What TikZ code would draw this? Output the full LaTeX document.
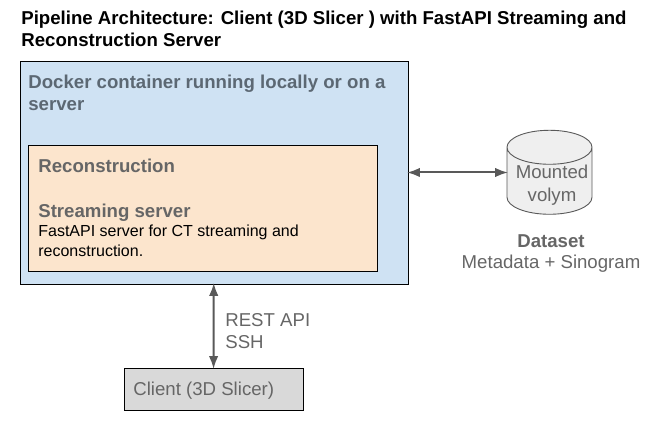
\documentclass[tikz,border=0pt]{standalone}
\usepackage{fontspec}
\setmainfont{Liberation Sans}
\usetikzlibrary{arrows.meta,shapes.geometric}
\definecolor{dockerfill}{HTML}{CFE2F3}
\definecolor{dockertext}{HTML}{5C6873}
\definecolor{serverfill}{HTML}{FCE5CD}
\definecolor{clientfill}{HTML}{D9D9D9}
\definecolor{volumefill}{HTML}{EFEFEF}
\definecolor{textgray}{HTML}{666666}
\definecolor{linegray}{HTML}{595959}
\tikzset{
  boxnode/.style={draw=black, line width=0.018cm, inner sep=0pt},
  labelnode/.style={inner sep=0pt, align=left, text=textgray},
  linkarrow/.style={{Latex[length=0.26cm,width=0.19cm]}-{Latex[length=0.26cm,width=0.19cm]}, draw=linegray, line width=0.04cm, shorten >=-0.03cm, shorten <=-0.03cm}
}
\begin{document}
\begin{tikzpicture}
  \useasboundingbox (0,0) rectangle (13.320000,8.660000);
  \fontsize{10.6pt}{12.6pt}\selectfont

  % Drawing title
  \node [inner sep=0pt, align=left, anchor=north west, font=\bfseries, text=black] (title) at (0.420000,8.440000)
    {Pipeline Architecture: Client (3D Slicer ) with FastAPI Streaming and\\Reconstruction Server};

  % Drawing docker box
  \node [boxnode, fill=dockerfill, minimum width=7.760000cm, minimum height=4.460000cm] (docker) at (4.280000,5.210000) {};
  \node [labelnode, anchor=north west, font=\bfseries, text=dockertext] (dockerlabel) at (0.560000,7.170000)
    {Docker container running locally or on a\\server};

  % Drawing server box
  \node [boxnode, fill=serverfill, minimum width=6.980000cm, minimum height=2.520000cm] (server) at (4.050000,4.500000) {};
  \node [labelnode, anchor=north west, font=\bfseries] (recon) at (0.760000,5.480000) {Reconstruction};
  \node [labelnode, anchor=north west, font=\bfseries] (streaming) at (0.760000,4.580000) {Streaming server};
  \node [inner sep=0pt, align=left, anchor=north west, text=black, font=\fontsize{9.1pt}{11pt}\selectfont] (fastapi) at (0.760000,4.160000)
    {FastAPI server for CT streaming and\\reconstruction.};

  % Drawing mounted volume
  \node [cylinder, shape border rotate=90, draw=linegray, line width=0.018cm, fill=volumefill, shape aspect=0.85,
         minimum width=1.700000cm, minimum height=1.680000cm, inner sep=0pt] (volume) at (10.990000,5.040000) {\rule{0.800000cm}{0pt}};
  \node [labelnode, align=center, font=\fontsize{10.6pt}{13pt}\selectfont] (volumelabel) at (11.040000,4.960000) {Mounted\\volym};

  % Drawing dataset label
  \node [labelnode, align=center, font=\bfseries] (dataset) at (11.020000,3.840000) {Dataset};
  \node [labelnode, align=center] (metadata) at (11.020000,3.380000) {Metadata + Sinogram};

  % Drawing client box
  \node [boxnode, fill=clientfill, minimum width=3.580000cm, minimum height=0.840000cm] (client) at (4.270000,0.880000) {};
  \node [labelnode, anchor=west] (clientlabel) at (2.660000,0.840000) {Client (3D Slicer)};

  % Drawing links
  \draw [linkarrow] (docker.east) -- (docker.east -| volume.west);
  \draw [linkarrow] (docker) -- (client);

  % Marking link label
  \node [labelnode, anchor=north west] (linklabel) at (4.500000,2.400000) {REST API\\SSH};
\end{tikzpicture}
\end{document}
